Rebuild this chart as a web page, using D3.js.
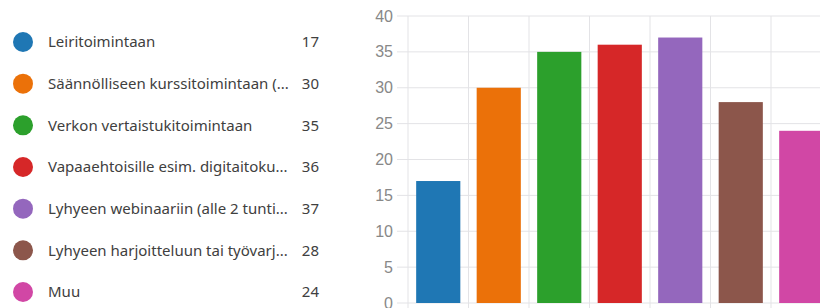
<!DOCTYPE html>
<html>
<head>
<meta charset="utf-8">
<script src="https://cdn.jsdelivr.net/npm/d3@7"></script>
<style>
  html, body { margin: 0; padding: 0; background: #fff; }
  svg { display: block; }
</style>
</head>
<body>
<svg id="chart" width="820" height="308"></svg>
<script>
var labels = [
	"Leiritoimintaan",
	"Säännölliseen kurssitoimintaan (...",
	"Verkon vertaistukitoimintaan",
	"Vapaaehtoisille esim. digitaitoku...",
	"Lyhyeen webinaariin (alle 2 tunti...",
	"Lyhyeen harjoitteluun tai työvarj...",
	"Muu"
];
var counts = [17, 30, 35, 36, 37, 28, 24];
var colors = ["#1f77b4", "#eb7109", "#2ca02c", "#d62728", "#9467bd", "#8c564b", "#d147a5"];
var yTicks = [0, 5, 10, 15, 20, 25, 30, 35, 40];

var svg = d3.select("#chart");
var font = "'Noto Sans', 'Open Sans', sans-serif";

// legend
var legend = svg.append("g");
var rowY = d3.scalePoint().domain(d3.range(labels.length)).range([42, 292]);

var rows = legend.selectAll("g.row")
	.data(labels)
	.enter().append("g")
	.attr("class", "row")
	.attr("transform", function(d, i) { return "translate(0," + rowY(i) + ")"; });

rows.append("circle")
	.attr("cx", 23)
	.attr("cy", 0)
	.attr("r", 10)
	.style("fill", function(d, i) { return colors[i]; });

rows.append("text")
	.text(function(d) { return d; })
	.attr("x", 48)
	.attr("dy", "0.35em")
	.style("font-family", font)
	.style("font-size", "15px")
	.style("fill", "#404040");

rows.append("text")
	.text(function(d, i) { return counts[i]; })
	.attr("x", 319)
	.attr("dy", "0.35em")
	.attr("text-anchor", "end")
	.style("font-family", font)
	.style("font-size", "15px")
	.style("fill", "#404040");

// bars
var x = d3.scaleBand()
	.domain(d3.range(labels.length))
	.range([408, 408 + 7 * 60.5])
	.paddingInner(0.27)
	.paddingOuter(0.135);

var y = d3.scaleLinear().domain([0, 40]).range([303, 16]);

var grid = svg.append("g");
grid.selectAll("line.h")
	.data(yTicks)
	.enter().append("line")
	.attr("x1", 397)
	.attr("x2", 820)
	.attr("y1", function(d) { return y(d); })
	.attr("y2", function(d) { return y(d); })
	.style("stroke", "#e3e3e6")
	.style("stroke-width", 1);

grid.selectAll("line.v")
	.data(d3.range(labels.length + 1))
	.enter().append("line")
	.attr("x1", function(i) { return x.range()[0] + i * x.step(); })
	.attr("x2", function(i) { return x.range()[0] + i * x.step(); })
	.attr("y1", y(40))
	.attr("y2", 308)
	.style("stroke", "#e3e3e6")
	.style("stroke-width", 1);

svg.append("g").selectAll("text")
	.data(yTicks)
	.enter().append("text")
	.text(function(d) { return d; })
	.attr("x", 393)
	.attr("y", function(d) { return y(d); })
	.attr("dy", "0.35em")
	.attr("text-anchor", "end")
	.style("font-family", "'Liberation Sans', Arial, sans-serif")
	.style("font-size", "16px")
	.style("fill", "#888");

svg.append("g").selectAll("rect")
	.data(counts)
	.enter().append("rect")
	.attr("x", function(d, i) { return x(i); })
	.attr("width", x.bandwidth())
	.attr("y", function(d) { return y(d); })
	.attr("height", function(d) { return y(0) - y(d); })
	.style("fill", function(d, i) { return colors[i]; });
</script>
</body>
</html>
